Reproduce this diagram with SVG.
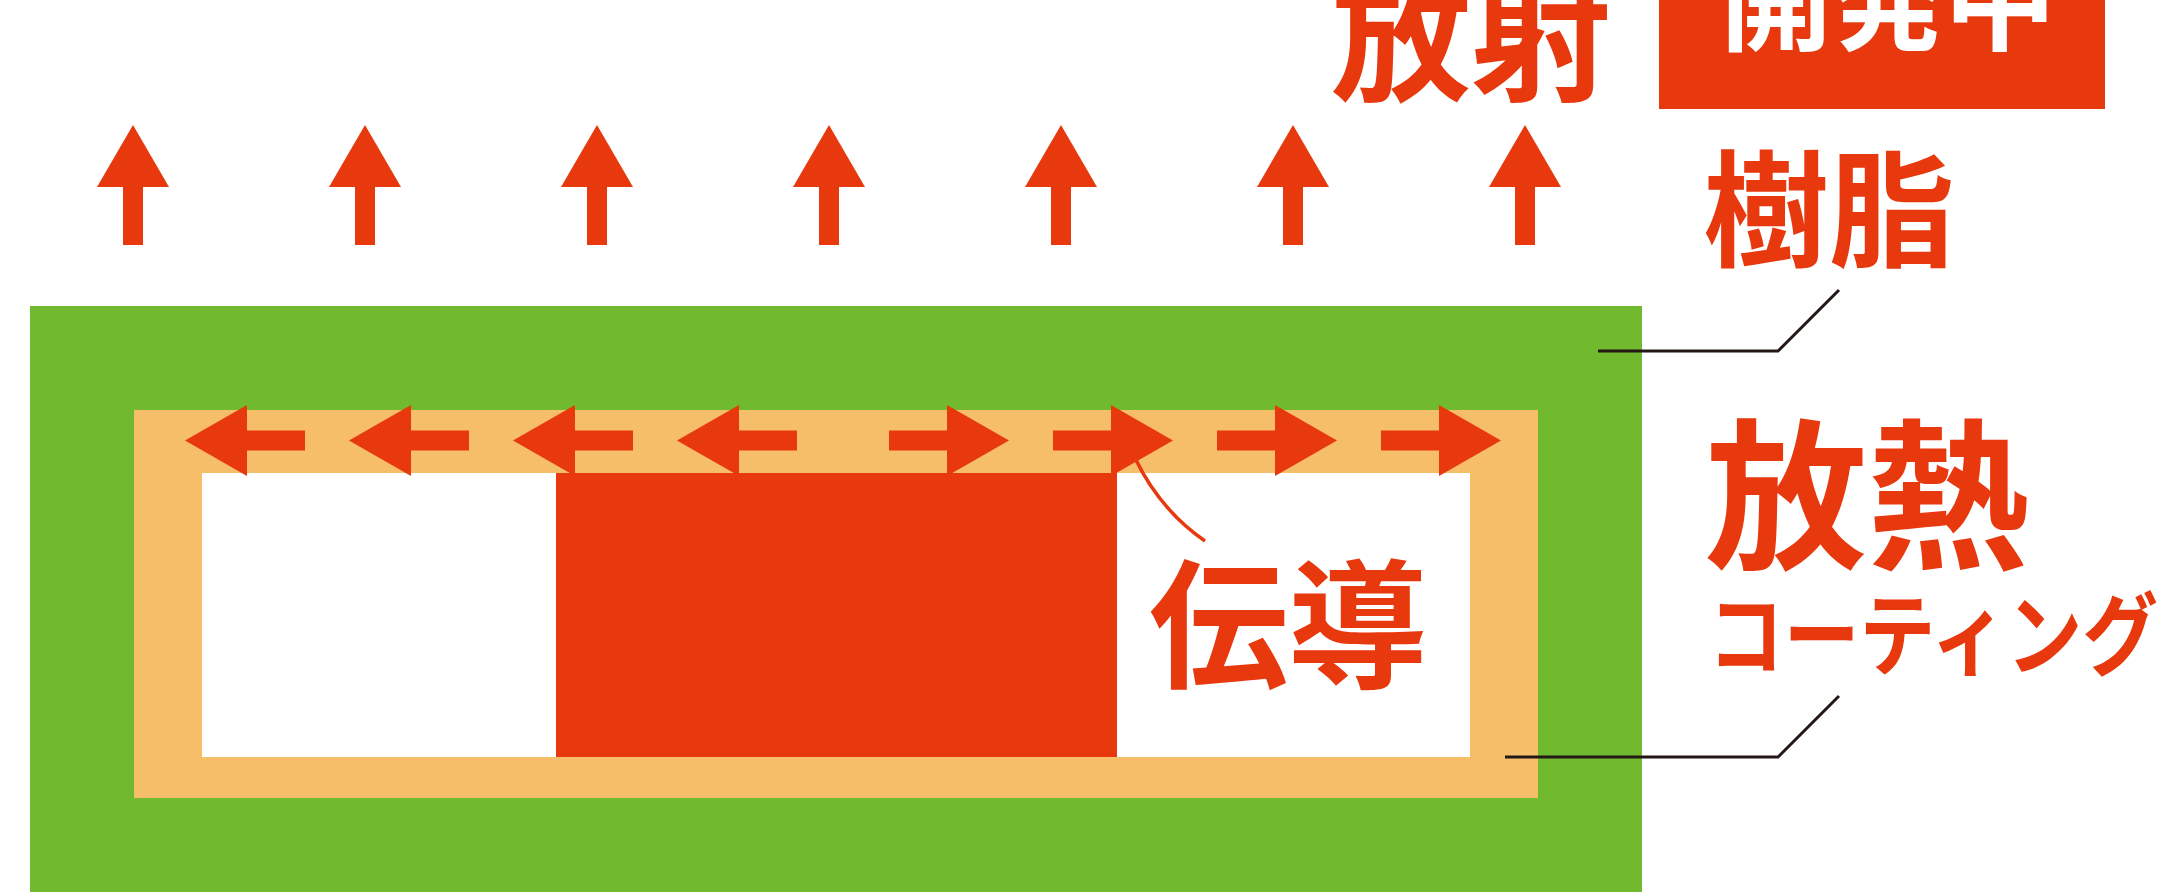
<svg xmlns="http://www.w3.org/2000/svg" width="2164" height="892" viewBox="0 0 2164 892">
  <defs>
    <style>
      .red { fill: #E8380D; }
      .jp { font-family: "Noto Sans CJK JP", "Noto Sans CJK SC", sans-serif; font-weight: 700; }
      .lbl { fill: #E8380D; }
      .lead { fill: none; stroke: #231815; stroke-width: 3; }
      .curve { fill: none; stroke: #E8380D; stroke-width: 3.5; }
    </style>
    <path id="upArrow" d="M0,0 L36,62 L10,62 L10,120 L-10,120 L-10,62 L-36,62 Z"/>
    <path id="leftArrow" d="M0,0 L62,-35.5 L62,-10 L120,-10 L120,10 L62,10 L62,35.5 Z"/>
    <path id="rightArrow" d="M0,0 L-62,-35.5 L-62,-10 L-120,-10 L-120,10 L-62,10 L-62,35.5 Z"/>
  </defs>

  <rect width="2164" height="892" fill="#FFFFFF"/>

  <g id="radiation-arrows" class="red">
    <use href="#upArrow" x="133" y="125"/>
    <use href="#upArrow" x="365" y="125"/>
    <use href="#upArrow" x="597" y="125"/>
    <use href="#upArrow" x="829" y="125"/>
    <use href="#upArrow" x="1061" y="125"/>
    <use href="#upArrow" x="1293" y="125"/>
    <use href="#upArrow" x="1525" y="125"/>
  </g>

  <g id="resin">
    <rect x="30" y="306" width="1612" height="600" fill="#71B92E"/>
  </g>

  <g id="coating">
    <rect x="134" y="410" width="1404" height="388" fill="#F7BE69"/>
  </g>

  <g id="inner">
    <rect x="202" y="473" width="1268" height="284" fill="#FFFFFF"/>
  </g>

  <g id="chip">
    <rect x="556" y="473" width="561" height="284" fill="#E8380D"/>
  </g>

  <g id="conduction-arrows" class="red">
    <use href="#leftArrow" x="185" y="440.5"/>
    <use href="#leftArrow" x="349" y="440.5"/>
    <use href="#leftArrow" x="513" y="440.5"/>
    <use href="#leftArrow" x="677" y="440.5"/>
    <use href="#rightArrow" x="1009" y="440.5"/>
    <use href="#rightArrow" x="1173" y="440.5"/>
    <use href="#rightArrow" x="1337" y="440.5"/>
    <use href="#rightArrow" x="1501" y="440.5"/>
  </g>

  <g id="connectors">
    <path class="curve" d="M1135,458 Q1160,510 1205,541"/>
    <path class="lead" d="M1598,351 H1778 L1839,290"/>
    <path class="lead" d="M1505,757 H1778 L1839,696"/>
  </g>

  <g id="label-radiation">
    <text class="jp lbl" x="1331" y="90" font-size="140">放射</text>
  </g>

  <g id="label-dev">
    <rect x="1659" y="-10" width="446" height="119" fill="#E8380D"/>
    <text class="jp" x="1720" y="42" font-size="112" fill="#FFFFFF">開発中</text>
  </g>

  <g id="label-resin">
    <text class="jp lbl" x="1703" y="257" font-size="126">樹脂</text>
  </g>

  <g id="label-coating">
    <text class="jp lbl" x="1705" y="557" font-size="162">放熱</text>
    <text class="jp lbl" x="1708" y="668" font-size="90" textLength="450" lengthAdjust="spacingAndGlyphs">コーティング</text>
  </g>

  <g id="label-conduction">
    <text class="jp lbl" x="1149" y="677" font-size="139">伝導</text>
  </g>
</svg>
